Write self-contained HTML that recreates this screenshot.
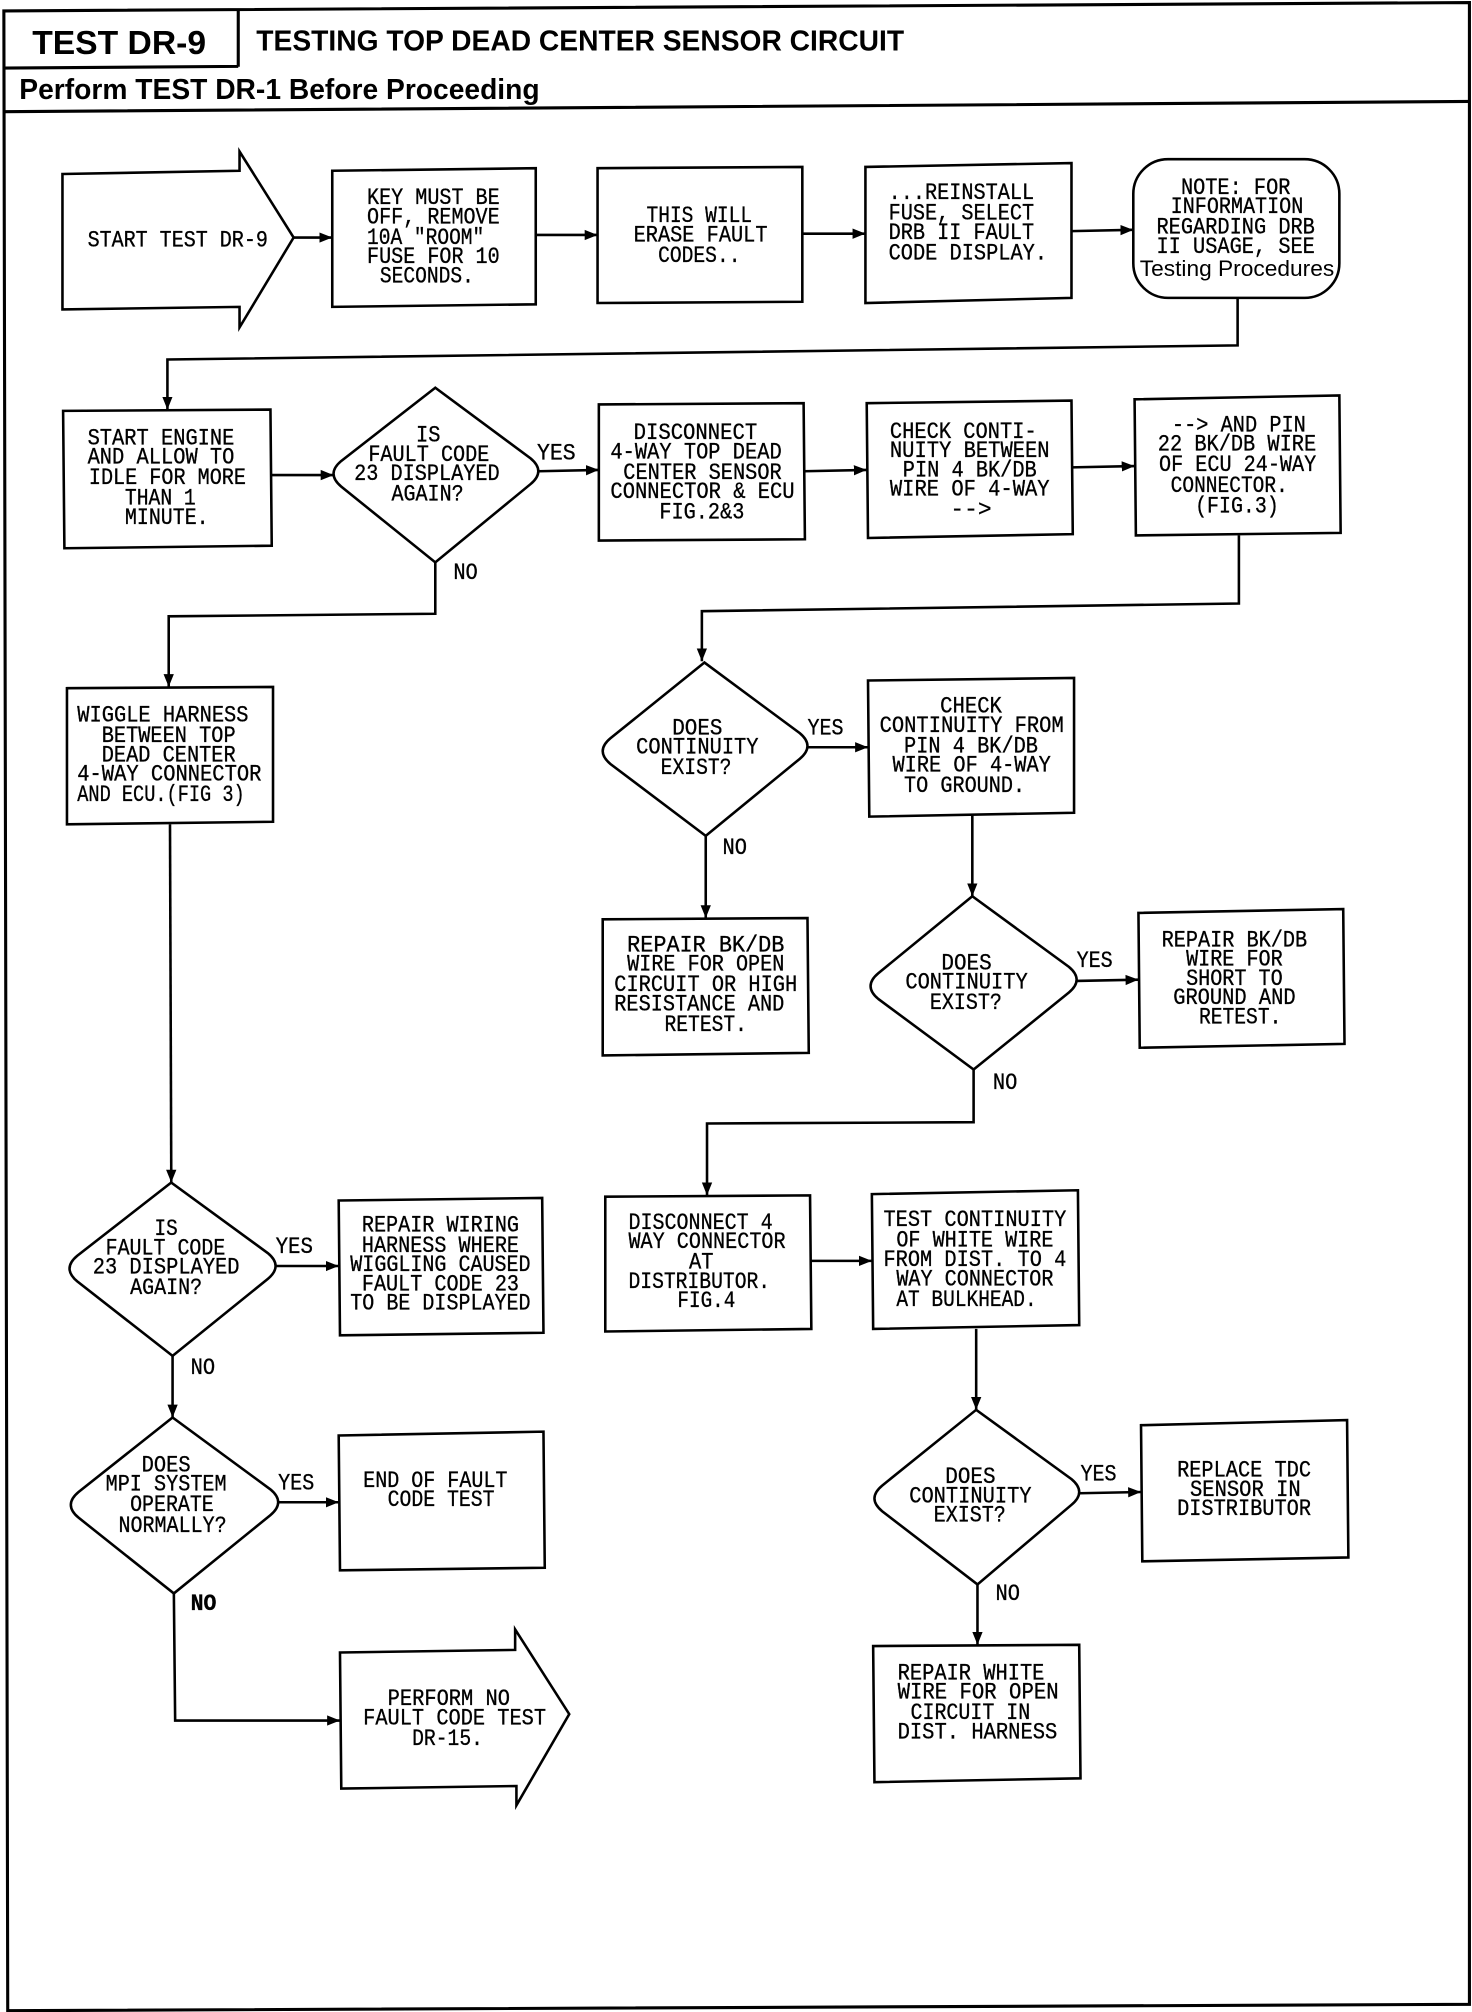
<!DOCTYPE html>
<html>
<head>
<meta charset="utf-8">
<style>
html,body{margin:0;padding:0;background:#fff;width:1472px;height:2012px;overflow:hidden}
svg{display:block}
.s{fill:#fff;stroke:#000;stroke-width:2;stroke-linejoin:miter}
.c{fill:none;stroke:#000;stroke-width:2}
.m text{font-family:"Liberation Mono",monospace;font-size:18px;fill:#000;stroke:#000;stroke-width:.25}
.h{font-family:"Liberation Sans",sans-serif;font-weight:bold;fill:#000}
</style>
</head>
<body>
<svg width="1472" height="2012" viewBox="0 0 1143 1567" preserveAspectRatio="none" xmlns="http://www.w3.org/2000/svg">
<defs>
<marker id="a" markerUnits="userSpaceOnUse" markerWidth="11" markerHeight="9" refX="10" refY="4.5" orient="auto"><path d="M0,0.5 L10,4.5 L0,8.5 Z" fill="#000"/></marker>
</defs>
<rect width="1143" height="1567" fill="#fff"/>

<!-- frame -->
<g fill="none" stroke="#000" stroke-width="2.4">
<path d="M3,8.5 L1141,2 L1141,1561 L6,1566 Z"/>
<path d="M3,53 L185,51.7 M185,8 L185,52 M3,87 L1141,79"/>
</g>
<text class="h" x="25" y="42" font-size="26" textLength="135" lengthAdjust="spacingAndGlyphs">TEST DR-9</text>
<text class="h" x="199" y="39.5" font-size="22.5" textLength="503" lengthAdjust="spacingAndGlyphs">TESTING TOP DEAD CENTER SENSOR CIRCUIT</text>
<text class="h" x="15" y="77" font-size="22" textLength="404" lengthAdjust="spacingAndGlyphs">Perform TEST DR-1 Before Proceeding</text>

<!-- connectors -->
<path class="c" marker-end="url(#a)" d="M228,185 L258,185"/>
<path class="c" marker-end="url(#a)" d="M416,183 L464,183"/>
<path class="c" marker-end="url(#a)" d="M623,182 L672,182"/>
<path class="c" marker-end="url(#a)" d="M832,180 L880,179"/>
<path class="c" marker-end="url(#a)" d="M961,232 L961,269 L130,280 L130,319"/>
<path class="c" marker-end="url(#a)" d="M210,370 L259,370"/>
<path class="c" marker-end="url(#a)" d="M418,367 L465,366"/>
<path class="c" marker-end="url(#a)" d="M624,367 L673,366"/>
<path class="c" marker-end="url(#a)" d="M832,364 L881,363"/>
<path class="c" marker-end="url(#a)" d="M962,417 L962,470 L545,476 L545,515"/>
<path class="c" marker-end="url(#a)" d="M338,438 L338,478 L131,480 L131,535"/>
<path class="c" marker-end="url(#a)" d="M132,642 L133,921"/>
<path class="c" marker-end="url(#a)" d="M214,986 L263,986"/>
<path class="c" marker-end="url(#a)" d="M134,1056 L134,1104"/>
<path class="c" marker-end="url(#a)" d="M216,1170 L263,1170"/>
<path class="c" marker-end="url(#a)" d="M135,1241 L136,1340 L264,1340"/>
<path class="c" marker-end="url(#a)" d="M627,582 L674,582"/>
<path class="c" marker-end="url(#a)" d="M548,651 L548,715"/>
<path class="c" marker-end="url(#a)" d="M755,635 L755,698"/>
<path class="c" marker-end="url(#a)" d="M836,764 L884,763"/>
<path class="c" marker-end="url(#a)" d="M756,833 L756,874 L549,875 L549,931"/>
<path class="c" marker-end="url(#a)" d="M630,982 L677,982"/>
<path class="c" marker-end="url(#a)" d="M758,1035 L758,1098"/>
<path class="c" marker-end="url(#a)" d="M838,1163 L886,1162"/>
<path class="c" marker-end="url(#a)" d="M759,1234 L759,1281"/>

<!-- shapes -->
<polygon class="s" points="48.5,135.5 186,133 186,118 228,185 186,255 186,239 48.5,241"/>
<polygon class="s" points="258,133 416,131 416,237 258,239"/>
<polygon class="s" points="464,131 623,130 623,235 464,236"/>
<polygon class="s" points="672,130 832,127 832,232 672,236"/>
<rect class="s" x="880" y="124" width="160" height="108" rx="27" ry="27"/>
<polygon class="s" points="49,320 210,319 211,425 50,427"/>
<polygon class="s" points="465,315 624,314 625,420 465,421"/>
<polygon class="s" points="673,314 832,312 833,416 674,419"/>
<polygon class="s" points="881,311 1040,308 1041,415 882,417"/>
<polygon class="s" points="52,536 212,535 212,640 52,642"/>
<polygon class="s" points="263,935 421,933 422,1038 264,1040"/>
<polygon class="s" points="263,1118 422,1115 423,1221 264,1223"/>
<polygon class="s" points="264,1287 400,1285 400,1269 442,1335 401,1406 401,1391 265,1393"/>
<polygon class="s" points="674,530 834,528 834,633 675,636"/>
<polygon class="s" points="468,716 627,715 628,820 468,822"/>
<polygon class="s" points="884,711 1043,708 1044,813 885,816"/>
<polygon class="s" points="470,932 629,931 630,1035 470,1037"/>
<polygon class="s" points="677,930 837,927 838,1032 678,1035"/>
<polygon class="s" points="886,1110 1046,1106 1047,1213 887,1216"/>
<polygon class="s" points="678,1282 838,1281 839,1385 679,1388"/>

<path class="s" d="M338,302 L265,359 Q253,369 265,379 L338,438 L412,377 Q424,367 412,357 Z"/>
<path class="s" d="M133,921 L60,978 Q48,988 60,998 L134,1056 L208,996 Q220,986 208,976 Z"/>
<path class="s" d="M134,1104 L61,1162 Q49,1172 61,1182 L135,1241 L210,1180 Q222,1170 210,1160 Z"/>
<path class="s" d="M547,516 L474,575 Q462,585 474,595 L548,651 L621,591 Q633,581 621,571 Z"/>
<path class="s" d="M755,698 L682,758 Q670,768 682,778 L756,833 L830,773 Q842,763 830,753 Z"/>
<path class="s" d="M758,1098 L685,1157 Q673,1167 685,1177 L759,1234 L832,1172 Q844,1162 832,1152 Z"/>

<!-- text -->
<g class="m">
<text x="68" y="192" textLength="140" lengthAdjust="spacingAndGlyphs">START TEST DR-9</text>

<text x="285" y="159" textLength="103" lengthAdjust="spacingAndGlyphs">KEY MUST BE</text>
<text x="285" y="174" textLength="103" lengthAdjust="spacingAndGlyphs">OFF, REMOVE</text>
<text x="285" y="190" textLength="91" lengthAdjust="spacingAndGlyphs">10A "ROOM"</text>
<text x="285" y="205" textLength="103" lengthAdjust="spacingAndGlyphs">FUSE FOR 10</text>
<text x="295" y="220" textLength="73" lengthAdjust="spacingAndGlyphs">SECONDS.</text>

<text x="502" y="173" textLength="82" lengthAdjust="spacingAndGlyphs">THIS WILL</text>
<text x="492" y="188" textLength="104" lengthAdjust="spacingAndGlyphs">ERASE FAULT</text>
<text x="511" y="204" textLength="64" lengthAdjust="spacingAndGlyphs">CODES..</text>

<text x="690" y="155" textLength="113" lengthAdjust="spacingAndGlyphs">...REINSTALL</text>
<text x="690" y="171" textLength="113" lengthAdjust="spacingAndGlyphs">FUSE, SELECT</text>
<text x="690" y="186" textLength="113" lengthAdjust="spacingAndGlyphs">DRB II FAULT</text>
<text x="690" y="202" textLength="123" lengthAdjust="spacingAndGlyphs">CODE DISPLAY.</text>

<text x="917" y="151" textLength="85" lengthAdjust="spacingAndGlyphs">NOTE: FOR</text>
<text x="909" y="166" textLength="103" lengthAdjust="spacingAndGlyphs">INFORMATION</text>
<text x="898" y="182" textLength="123" lengthAdjust="spacingAndGlyphs">REGARDING DRB</text>
<text x="898" y="197" textLength="123" lengthAdjust="spacingAndGlyphs">II USAGE, SEE</text>
<text x="885" y="215" textLength="151" lengthAdjust="spacingAndGlyphs" style="font-family:'Liberation Sans',sans-serif;font-size:17px;stroke:none">Testing Procedures</text>

<text x="68" y="346" textLength="114" lengthAdjust="spacingAndGlyphs">START ENGINE</text>
<text x="68" y="361" textLength="114" lengthAdjust="spacingAndGlyphs">AND ALLOW TO</text>
<text x="69" y="377" textLength="122" lengthAdjust="spacingAndGlyphs">IDLE FOR MORE</text>
<text x="97" y="393" textLength="55" lengthAdjust="spacingAndGlyphs">THAN 1</text>
<text x="97" y="408" textLength="65" lengthAdjust="spacingAndGlyphs">MINUTE.</text>

<text x="323" y="344" textLength="19" lengthAdjust="spacingAndGlyphs">IS</text>
<text x="286" y="359" textLength="94" lengthAdjust="spacingAndGlyphs">FAULT CODE</text>
<text x="275" y="374" textLength="113" lengthAdjust="spacingAndGlyphs">23 DISPLAYED</text>
<text x="304" y="390" textLength="56" lengthAdjust="spacingAndGlyphs">AGAIN?</text>
<text x="417" y="358" textLength="30" lengthAdjust="spacingAndGlyphs">YES</text>

<text x="492" y="342" textLength="96" lengthAdjust="spacingAndGlyphs">DISCONNECT</text>
<text x="474" y="357" textLength="133" lengthAdjust="spacingAndGlyphs">4-WAY TOP DEAD</text>
<text x="484" y="373" textLength="123" lengthAdjust="spacingAndGlyphs">CENTER SENSOR</text>
<text x="474" y="388" textLength="143" lengthAdjust="spacingAndGlyphs">CONNECTOR &amp; ECU</text>
<text x="512" y="404" textLength="66" lengthAdjust="spacingAndGlyphs">FIG.2&amp;3</text>

<text x="691" y="341" textLength="114" lengthAdjust="spacingAndGlyphs">CHECK CONTI-</text>
<text x="691" y="356" textLength="124" lengthAdjust="spacingAndGlyphs">NUITY BETWEEN</text>
<text x="701" y="371" textLength="104" lengthAdjust="spacingAndGlyphs">PIN 4 BK/DB</text>
<text x="691" y="386" textLength="124" lengthAdjust="spacingAndGlyphs">WIRE OF 4-WAY</text>
<text x="738" y="402" textLength="32" lengthAdjust="spacingAndGlyphs">--&gt;</text>

<text x="910" y="336" textLength="104" lengthAdjust="spacingAndGlyphs">--&gt; AND PIN</text>
<text x="899" y="351" textLength="123" lengthAdjust="spacingAndGlyphs">22 BK/DB WIRE</text>
<text x="900" y="367" textLength="122" lengthAdjust="spacingAndGlyphs">OF ECU 24-WAY</text>
<text x="909" y="383" textLength="91" lengthAdjust="spacingAndGlyphs">CONNECTOR.</text>
<text x="928" y="399" textLength="65" lengthAdjust="spacingAndGlyphs">(FIG.3)</text>

<text x="352" y="451" textLength="19" lengthAdjust="spacingAndGlyphs">NO</text>

<text x="60" y="562" textLength="133" lengthAdjust="spacingAndGlyphs">WIGGLE HARNESS</text>
<text x="79" y="578" textLength="104" lengthAdjust="spacingAndGlyphs">BETWEEN TOP</text>
<text x="79" y="593" textLength="104" lengthAdjust="spacingAndGlyphs">DEAD CENTER</text>
<text x="60" y="608" textLength="143" lengthAdjust="spacingAndGlyphs">4-WAY CONNECTOR</text>
<text x="60" y="624" textLength="130" lengthAdjust="spacingAndGlyphs">AND ECU.(FIG 3)</text>

<text x="120" y="962" textLength="18" lengthAdjust="spacingAndGlyphs">IS</text>
<text x="82" y="977" textLength="93" lengthAdjust="spacingAndGlyphs">FAULT CODE</text>
<text x="72" y="992" textLength="114" lengthAdjust="spacingAndGlyphs">23 DISPLAYED</text>
<text x="101" y="1008" textLength="56" lengthAdjust="spacingAndGlyphs">AGAIN?</text>
<text x="214" y="976" textLength="29" lengthAdjust="spacingAndGlyphs">YES</text>

<text x="281" y="959" textLength="122" lengthAdjust="spacingAndGlyphs">REPAIR WIRING</text>
<text x="281" y="975" textLength="122" lengthAdjust="spacingAndGlyphs">HARNESS WHERE</text>
<text x="272" y="990" textLength="140" lengthAdjust="spacingAndGlyphs">WIGGLING CAUSED</text>
<text x="281" y="1005" textLength="122" lengthAdjust="spacingAndGlyphs">FAULT CODE 23</text>
<text x="272" y="1020" textLength="140" lengthAdjust="spacingAndGlyphs">TO BE DISPLAYED</text>

<text x="148" y="1070" textLength="19" lengthAdjust="spacingAndGlyphs">NO</text>

<text x="110" y="1146" textLength="38" lengthAdjust="spacingAndGlyphs">DOES</text>
<text x="82" y="1161" textLength="94" lengthAdjust="spacingAndGlyphs">MPI SYSTEM</text>
<text x="101" y="1177" textLength="65" lengthAdjust="spacingAndGlyphs">OPERATE</text>
<text x="92" y="1193" textLength="84" lengthAdjust="spacingAndGlyphs">NORMALLY?</text>
<text x="216" y="1160" textLength="28" lengthAdjust="spacingAndGlyphs">YES</text>

<text x="282" y="1158" textLength="112" lengthAdjust="spacingAndGlyphs">END OF FAULT</text>
<text x="301" y="1173" textLength="83" lengthAdjust="spacingAndGlyphs">CODE TEST</text>

<text x="148" y="1254" textLength="20" lengthAdjust="spacingAndGlyphs" font-weight="bold">NO</text>

<text x="301" y="1328" textLength="95" lengthAdjust="spacingAndGlyphs">PERFORM NO</text>
<text x="282" y="1343" textLength="142" lengthAdjust="spacingAndGlyphs">FAULT CODE TEST</text>
<text x="320" y="1359" textLength="55" lengthAdjust="spacingAndGlyphs">DR-15.</text>

<text x="522" y="572" textLength="39" lengthAdjust="spacingAndGlyphs">DOES</text>
<text x="494" y="587" textLength="95" lengthAdjust="spacingAndGlyphs">CONTINUITY</text>
<text x="513" y="603" textLength="55" lengthAdjust="spacingAndGlyphs">EXIST?</text>
<text x="627" y="572" textLength="28" lengthAdjust="spacingAndGlyphs">YES</text>

<text x="730" y="555" textLength="48" lengthAdjust="spacingAndGlyphs">CHECK</text>
<text x="683" y="570" textLength="143" lengthAdjust="spacingAndGlyphs">CONTINUITY FROM</text>
<text x="702" y="586" textLength="104" lengthAdjust="spacingAndGlyphs">PIN 4 BK/DB</text>
<text x="693" y="601" textLength="123" lengthAdjust="spacingAndGlyphs">WIRE OF 4-WAY</text>
<text x="702" y="617" textLength="94" lengthAdjust="spacingAndGlyphs">TO GROUND.</text>

<text x="561" y="665" textLength="19" lengthAdjust="spacingAndGlyphs">NO</text>

<text x="487" y="741" textLength="122" lengthAdjust="spacingAndGlyphs">REPAIR BK/DB</text>
<text x="487" y="756" textLength="122" lengthAdjust="spacingAndGlyphs">WIRE FOR OPEN</text>
<text x="477" y="772" textLength="142" lengthAdjust="spacingAndGlyphs">CIRCUIT OR HIGH</text>
<text x="477" y="787" textLength="132" lengthAdjust="spacingAndGlyphs">RESISTANCE AND</text>
<text x="516" y="803" textLength="64" lengthAdjust="spacingAndGlyphs">RETEST.</text>

<text x="731" y="755" textLength="39" lengthAdjust="spacingAndGlyphs">DOES</text>
<text x="703" y="770" textLength="95" lengthAdjust="spacingAndGlyphs">CONTINUITY</text>
<text x="722" y="786" textLength="56" lengthAdjust="spacingAndGlyphs">EXIST?</text>
<text x="836" y="753" textLength="28" lengthAdjust="spacingAndGlyphs">YES</text>

<text x="902" y="737" textLength="113" lengthAdjust="spacingAndGlyphs">REPAIR BK/DB</text>
<text x="921" y="752" textLength="75" lengthAdjust="spacingAndGlyphs">WIRE FOR</text>
<text x="921" y="767" textLength="75" lengthAdjust="spacingAndGlyphs">SHORT TO</text>
<text x="911" y="782" textLength="95" lengthAdjust="spacingAndGlyphs">GROUND AND</text>
<text x="931" y="797" textLength="64" lengthAdjust="spacingAndGlyphs">RETEST.</text>

<text x="771" y="848" textLength="19" lengthAdjust="spacingAndGlyphs">NO</text>

<text x="488" y="957" textLength="112" lengthAdjust="spacingAndGlyphs">DISCONNECT 4</text>
<text x="488" y="972" textLength="122" lengthAdjust="spacingAndGlyphs">WAY CONNECTOR</text>
<text x="535" y="988" textLength="19" lengthAdjust="spacingAndGlyphs">AT</text>
<text x="488" y="1003" textLength="110" lengthAdjust="spacingAndGlyphs">DISTRIBUTOR.</text>
<text x="526" y="1018" textLength="45" lengthAdjust="spacingAndGlyphs">FIG.4</text>

<text x="686" y="955" textLength="142" lengthAdjust="spacingAndGlyphs">TEST CONTINUITY</text>
<text x="696" y="971" textLength="122" lengthAdjust="spacingAndGlyphs">OF WHITE WIRE</text>
<text x="686" y="986" textLength="142" lengthAdjust="spacingAndGlyphs">FROM DIST. TO 4</text>
<text x="696" y="1001" textLength="122" lengthAdjust="spacingAndGlyphs">WAY CONNECTOR</text>
<text x="696" y="1017" textLength="109" lengthAdjust="spacingAndGlyphs">AT BULKHEAD.</text>

<text x="734" y="1155" textLength="39" lengthAdjust="spacingAndGlyphs">DOES</text>
<text x="706" y="1170" textLength="95" lengthAdjust="spacingAndGlyphs">CONTINUITY</text>
<text x="725" y="1185" textLength="56" lengthAdjust="spacingAndGlyphs">EXIST?</text>
<text x="839" y="1153" textLength="28" lengthAdjust="spacingAndGlyphs">YES</text>
<text x="773" y="1246" textLength="19" lengthAdjust="spacingAndGlyphs">NO</text>

<text x="914" y="1150" textLength="104" lengthAdjust="spacingAndGlyphs">REPLACE TDC</text>
<text x="924" y="1165" textLength="86" lengthAdjust="spacingAndGlyphs">SENSOR IN</text>
<text x="914" y="1180" textLength="104" lengthAdjust="spacingAndGlyphs">DISTRIBUTOR</text>

<text x="697" y="1308" textLength="114" lengthAdjust="spacingAndGlyphs">REPAIR WHITE</text>
<text x="697" y="1323" textLength="125" lengthAdjust="spacingAndGlyphs">WIRE FOR OPEN</text>
<text x="707" y="1339" textLength="93" lengthAdjust="spacingAndGlyphs">CIRCUIT IN</text>
<text x="697" y="1354" textLength="124" lengthAdjust="spacingAndGlyphs">DIST. HARNESS</text>
</g>
</svg>
</body>
</html>
